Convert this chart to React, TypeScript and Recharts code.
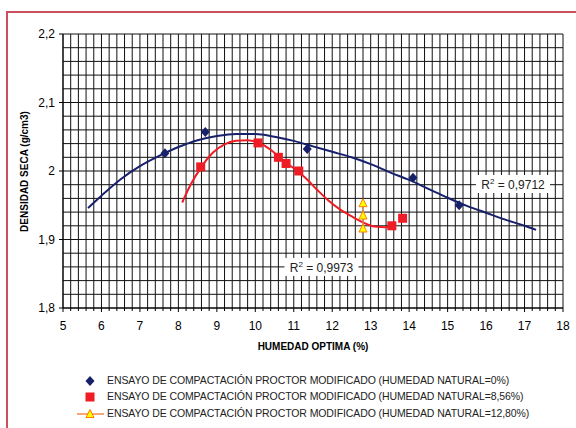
import React from "react";
import { ComposedChart, Scatter, XAxis, YAxis, CartesianGrid, ReferenceDot } from "recharts";

// ensayos de compactación, puntos medidos
const humedad0X = [7.65, 8.7, 11.35, 14.1, 15.3];
const humedad0Y = [2.026, 2.057, 2.032, 1.99, 1.95];
const humedad856X = [8.58, 10.07, 10.6, 10.8, 11.13, 13.55, 13.83];
const humedad856Y = [2.006, 2.041, 2.02, 2.011, 2.0, 1.92, 1.931];
const humedad1280X = [12.8, 12.8, 12.8];
const humedad1280Y = [1.953, 1.935, 1.916];

// líneas de tendencia
const tendencia0X = [5.65, 6, 6.5, 7, 7.5, 8, 8.5, 9, 9.5, 10, 10.5, 11, 11.5, 12, 12.5, 13, 13.5, 14, 14.5, 15, 15.5, 16, 16.5, 17, 17.3];
const tendencia0Y = [1.946, 1.964, 1.988, 2.007, 2.022, 2.035, 2.045, 2.051, 2.054, 2.054, 2.05, 2.044, 2.036, 2.028, 2.02, 2.01, 1.998, 1.987, 1.974, 1.961, 1.949, 1.939, 1.929, 1.92, 1.914];
const tendencia856X = [8.1, 8.3, 8.6, 8.9, 9.2, 9.5, 9.8, 10.1, 10.4, 10.7, 11.0, 11.3, 11.6, 11.9, 12.2, 12.5, 12.8, 13.1, 13.4, 13.6];
const tendencia856Y = [1.954, 1.978, 2.006, 2.027, 2.039, 2.044, 2.045, 2.041, 2.031, 2.016, 2.004, 1.99, 1.973, 1.957, 1.944, 1.934, 1.925, 1.919, 1.918, 1.92];

const xLabels = [5, 6, 7, 8, 9, 10, 11, 12, 13, 14, 15, 16, 17, 18];
const yLabels = [1.8, 1.9, 2, 2.1, 2.2];

const leyenda = [
  "ENSAYO DE COMPACTACIÓN PROCTOR MODIFICADO (HUMEDAD NATURAL=0%)",
  "ENSAYO DE COMPACTACIÓN PROCTOR MODIFICADO (HUMEDAD NATURAL=8,56%)",
  "ENSAYO DE COMPACTACIÓN PROCTOR MODIFICADO (HUMEDAD NATURAL=12,80%)",
];

const zip = (xs: number[], ys: number[]) => xs.map((x, i) => ({ x, y: ys[i] }));

const xTicks: number[] = [];
for (let i = 0; i <= 65; i++) xTicks.push(Math.round((5 + i * 0.2) * 100) / 100);
const yTicks: number[] = [];
for (let i = 0; i <= 20; i++) yTicks.push(Math.round((1.8 + i * 0.02) * 100) / 100);

const NAVY = "#17206b";
const RED = "#ee1c24";
const FONT = "'Liberation Sans', Arial, sans-serif";

const Diamond = ({ cx, cy }: any) => (
  <polygon points={`${cx},${cy - 5} ${cx + 4.5},${cy} ${cx},${cy + 5} ${cx - 4.5},${cy}`} fill={NAVY} />
);
const Square = ({ cx, cy }: any) => <rect x={cx - 4.5} y={cy - 4.5} width={9} height={9} fill={RED} />;
const Triangle = ({ cx, cy }: any) => (
  <polygon points={`${cx},${cy - 4.5} ${cx + 4},${cy + 3.5} ${cx - 4},${cy + 3.5}`} fill="#ffff00" stroke="#ff8000" strokeWidth={1} />
);
const Nada = () => <g />;

const XTick = ({ x, y, payload }: any) => {
  const v = payload.value;
  const major = xLabels.some((l) => Math.abs(l - v) < 1e-6);
  return (
    <g>
      <line x1={x} x2={x} y1={y} y2={y + (major ? 4 : 3)} stroke="#000" />
      {major && (
        <text x={x} y={y + 18} textAnchor="middle" dominantBaseline="central" fontSize={12} fill="#000" fontFamily={FONT}>
          {v}
        </text>
      )}
    </g>
  );
};

const YTick = ({ x, y, payload }: any) => {
  const v = payload.value;
  const major = yLabels.some((l) => Math.abs(l - v) < 1e-6);
  if (!major) return <g />;
  return (
    <g>
      <line x1={x - 4} x2={x} y1={y} y2={y} stroke="#000" />
      <text x={x - 8} y={y} textAnchor="end" dominantBaseline="central" fontSize={12} fill="#000" fontFamily={FONT}>
        {String(v).replace(".", ",")}
      </text>
    </g>
  );
};

const R2 = (valor: string) => (props: any) => {
  const vb = props.viewBox || {};
  const cx = vb.x + (vb.width || 0) / 2;
  const cy = vb.y + (vb.height || 0) / 2;
  return (
    <g>
      <rect x={cx - 37} y={cy - 9} width={74} height={18} fill="#fff" />
      <text x={cx} y={cy + 5} textAnchor="middle" fontSize={12} fill="#222" fontFamily={FONT}>
        R<tspan dy={-5} fontSize={8}>2</tspan>
        <tspan dy={5}> = {valor}</tspan>
      </text>
    </g>
  );
};

const Marca = ({ i }: { i: number }) => (
  <svg width={30} height={12} style={{ position: "absolute", left: 75, top: -6 }}>
    {i === 0 && <Diamond cx={15} cy={6} />}
    {i === 1 && <Square cx={15} cy={6} />}
    {i === 2 && (
      <g>
        <line x1={2} x2={29} y1={6} y2={6} stroke="#f7a677" strokeWidth={2} />
        <Triangle cx={15} cy={6} />
      </g>
    )}
  </svg>
);

export default function App() {
  return (
    <div style={{ position: "fixed", left: 0, top: 0, width: 576, height: 428, background: "#fff", overflow: "hidden", fontFamily: FONT }}>
      <div style={{ position: "absolute", left: 6, top: 11, width: 600, height: 500, borderLeft: "2px solid #c9505c", borderTop: "2px solid #c9505c" }} />
      <ComposedChart width={576} height={428} margin={{ top: 34, right: 13, left: 0, bottom: 90 }} style={{ position: "absolute", left: 0, top: 0 }}>
        <CartesianGrid stroke="#111" strokeWidth={1} />
        <XAxis
          type="number"
          dataKey="x"
          domain={[5, 18]}
          ticks={xTicks}
          interval={0}
          height={30}
          tickSize={0}
          tickMargin={0}
          tickLine={false}
          axisLine={{ stroke: "#000" }}
          tick={<XTick />}
          allowDataOverflow
        />
        <YAxis
          type="number"
          dataKey="y"
          domain={[1.8, 2.2]}
          ticks={yTicks}
          interval={0}
          width={63}
          tickSize={0}
          tickMargin={0}
          tickLine={false}
          axisLine={{ stroke: "#000" }}
          tick={<YTick />}
          allowDataOverflow
        />
        <Scatter data={zip(tendencia0X, tendencia0Y)} line={{ stroke: NAVY, strokeWidth: 2 }} lineJointType="monotoneX" shape={<Nada />} isAnimationActive={false} />
        <Scatter data={zip(tendencia856X, tendencia856Y)} line={{ stroke: RED, strokeWidth: 2 }} lineJointType="monotoneX" shape={<Nada />} isAnimationActive={false} />
        <Scatter data={zip(humedad0X, humedad0Y)} shape={<Diamond />} isAnimationActive={false} />
        <Scatter data={zip(humedad856X, humedad856Y)} shape={<Square />} isAnimationActive={false} />
        <Scatter data={zip(humedad1280X, humedad1280Y)} line={{ stroke: "#f7a677", strokeWidth: 1 }} shape={<Triangle />} isAnimationActive={false} />
        <ReferenceDot x={16.7} y={1.981} r={1} fill="none" stroke="none" label={R2("0,9712")} />
        <ReferenceDot x={11.72} y={1.86} r={1} fill="none" stroke="none" label={R2("0,9973")} />
      </ComposedChart>
      <div style={{ position: "absolute", left: 4, top: 164, width: 40, height: 14, display: "flex", justifyContent: "center", alignItems: "center" }}>
        <div style={{ transform: "rotate(-90deg)", whiteSpace: "nowrap", fontSize: 10, fontWeight: "bold", color: "#000" }}>
          DENSIDAD SECA (g/cm3)
        </div>
      </div>
      <div style={{ position: "absolute", left: 213, width: 200, top: 341, textAlign: "center", fontSize: 10, fontWeight: "bold", color: "#000" }}>
        HUMEDAD OPTIMA (%)
      </div>
      {leyenda.map((t, i) => (
        <div key={i} style={{ position: "absolute", left: 0, top: 380.5 + i * 16.8, height: 0 }}>
          <Marca i={i} />
          <div style={{ position: "absolute", left: 107, top: -7, whiteSpace: "nowrap", fontSize: 10.5, color: "#222", letterSpacing: -0.1 }}>
            {t}
          </div>
        </div>
      ))}
    </div>
  );
}
